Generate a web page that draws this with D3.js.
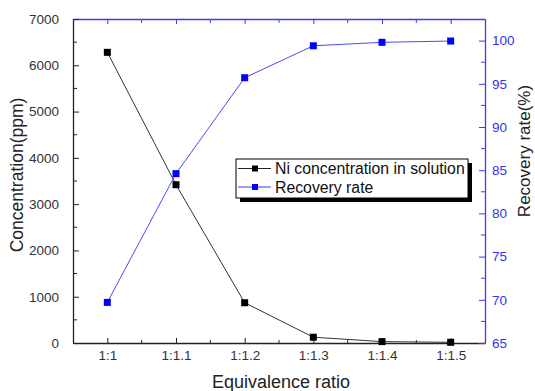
<!DOCTYPE html>
<html>
<head>
<meta charset="utf-8">
<script src="https://cdn.jsdelivr.net/npm/d3@7"></script>
<style>
  html, body { margin: 0; padding: 0; background: #fff; }
  svg { display: block; font-family: "Liberation Sans", Arial, sans-serif; }
</style>
</head>
<body>
<svg id="chart" width="535" height="391"></svg>
<script>
// Equivalence ratios on the x axis
const ratios = ["1:1", "1:1.1", "1:1.2", "1:1.3", "1:1.4", "1:1.5"];
// Ni concentration remaining in solution (ppm)
const niConcentration = [6280, 3420, 870, 125, 30, 15];
// Ni recovery rate (%)
const recoveryRate = [69.7, 84.6, 95.7, 99.4, 99.8, 99.95];
// Axis ticks
const leftTicks = [0, 1000, 2000, 3000, 4000, 5000, 6000, 7000];
const rightTicks = [65, 70, 75, 80, 85, 90, 95, 100];
const seriesNames = ["Ni concentration in solution", "Recovery rate"];

const svg = d3.select("#chart");
const margin = { left: 73, right: 50, top: 19, bottom: 48 };
const W = 535, H = 391;
const x0 = margin.left, x1 = W - margin.right;
const y0 = H - margin.bottom, y1 = margin.top;

const blue = "#0000ff";
const blueAxis = "#3c3cf0";
const dark = "#222";
const tickFont = 13.5;

const x = d3.scaleLinear().domain([0.5, ratios.length + 0.5]).range([x0, x1]);
const yL = d3.scaleLinear().domain([0, 7000]).range([y0, y1]);
const yR = d3.scaleLinear().domain([65, 102.5]).range([y0, y1]);

const idx = ratios.map((_, i) => i + 1);
const minorX = d3.range(1.5, ratios.length, 1);

// Bottom axis
const gB = svg.append("g").attr("transform", `translate(0,${y0})`);
gB.call(d3.axisBottom(x).tickValues(idx).tickFormat(d => ratios[d - 1]).tickSizeInner(-5).tickSizeOuter(0).tickPadding(11));
gB.append("g").selectAll("line").data(minorX).join("line")
  .attr("x1", d => x(d)).attr("x2", d => x(d)).attr("y1", 0).attr("y2", -3)
  .attr("stroke", dark);
gB.select(".domain").attr("stroke", dark).attr("stroke-width", 1.3);
gB.selectAll(".tick line").attr("stroke", dark);
gB.selectAll(".tick text").attr("fill", "#333").attr("font-size", tickFont).attr("dy", "0.45em");

// Top axis (blue, no labels)
const gT = svg.append("g").attr("transform", `translate(0,${y1})`);
gT.call(d3.axisTop(x).tickValues(idx).tickFormat("").tickSizeInner(-5).tickSizeOuter(0));
gT.append("g").selectAll("line").data(minorX).join("line")
  .attr("x1", d => x(d)).attr("x2", d => x(d)).attr("y1", 0).attr("y2", 4)
  .attr("stroke", blueAxis);
gT.select(".domain").attr("stroke", blueAxis).attr("stroke-width", 1.3);
gT.selectAll(".tick line").attr("stroke", blueAxis);

// Left axis
const gL = svg.append("g").attr("transform", `translate(${x0},0)`);
gL.call(d3.axisLeft(yL).tickValues(leftTicks).tickSizeInner(-6).tickSizeOuter(0).tickPadding(14).tickFormat(d3.format("d")));
gL.append("g").selectAll("line").data(d3.range(500, 7000, 1000)).join("line")
  .attr("x1", 0).attr("x2", 4).attr("y1", d => yL(d)).attr("y2", d => yL(d))
  .attr("stroke", dark);
gL.select(".domain").attr("stroke", dark).attr("stroke-width", 1.3);
gL.selectAll(".tick line").attr("stroke", dark);
gL.selectAll(".tick text").attr("fill", "#333").attr("font-size", tickFont);

// Right axis (blue)
const gR = svg.append("g").attr("transform", `translate(${x1},0)`);
gR.call(d3.axisRight(yR).tickValues(rightTicks).tickSizeInner(-6).tickSizeOuter(0).tickPadding(7));
gR.append("g").selectAll("line").data(d3.range(67.5, 102.5, 5)).join("line")
  .attr("x1", 0).attr("x2", -4).attr("y1", d => yR(d)).attr("y2", d => yR(d))
  .attr("stroke", blueAxis);
gR.select(".domain").attr("stroke", blueAxis).attr("stroke-width", 1.3);
gR.selectAll(".tick line").attr("stroke", blueAxis);
gR.selectAll(".tick text").attr("fill", "#3333ee").attr("font-size", tickFont);

// Axis titles
svg.append("text").attr("x", (x0 + x1) / 2 + 2).attr("y", 388)
  .attr("text-anchor", "middle").attr("font-size", 18).attr("fill", "#222")
  .text("Equivalence ratio");
svg.append("text").attr("transform", `translate(23,175) rotate(-90)`)
  .attr("text-anchor", "middle").attr("font-size", 17.5).attr("fill", "#222")
  .text("Concentration(ppm)");
svg.append("text").attr("transform", `translate(530,151) rotate(-90)`)
  .attr("text-anchor", "middle").attr("font-size", 17).attr("fill", "#222")
  .text("Recovery rate(%)");

// Series lines and markers
const lineL = d3.line().x((d, i) => x(i + 1)).y(d => yL(d));
const lineR = d3.line().x((d, i) => x(i + 1)).y(d => yR(d));

svg.append("path").datum(niConcentration).attr("d", lineL)
  .attr("fill", "none").attr("stroke", "#333").attr("stroke-width", 1);
svg.append("path").datum(recoveryRate).attr("d", lineR)
  .attr("fill", "none").attr("stroke", "#4a4af5").attr("stroke-width", 1);

const ms = 7;
svg.append("g").selectAll("rect").data(niConcentration).join("rect")
  .attr("x", (d, i) => x(i + 1) - ms / 2).attr("y", d => yL(d) - ms / 2)
  .attr("width", ms).attr("height", ms).attr("fill", "#000");
svg.append("g").selectAll("rect").data(recoveryRate).join("rect")
  .attr("x", (d, i) => x(i + 1) - ms / 2).attr("y", d => yR(d) - ms / 2)
  .attr("width", ms).attr("height", ms).attr("fill", blue);

// Legend with drop shadow
const lg = svg.append("g").attr("transform", "translate(236,159)");
const lw = 232, lh = 39;
lg.append("rect").attr("x", 4).attr("y", 4).attr("width", lw).attr("height", lh).attr("fill", "#000");
lg.append("rect").attr("x", 0).attr("y", 0).attr("width", lw).attr("height", lh)
  .attr("fill", "#fff").attr("stroke", "#000").attr("stroke-width", 1);
const legendColors = ["#000", blue];
const legendLine = ["#222", "#3a3af5"];
seriesNames.forEach((name, i) => {
  const cy = 9.5 + i * 18.5;
  lg.append("line").attr("x1", 2).attr("x2", 35).attr("y1", cy).attr("y2", cy)
    .attr("stroke", legendLine[i]).attr("stroke-width", 1);
  lg.append("rect").attr("x", 19 - 3).attr("y", cy - 3).attr("width", 6).attr("height", 6)
    .attr("fill", legendColors[i]);
  lg.append("text").attr("x", 39).attr("y", cy + 5.5).attr("font-size", 15.8).attr("fill", "#111")
    .text(name);
});
</script>
</body>
</html>
